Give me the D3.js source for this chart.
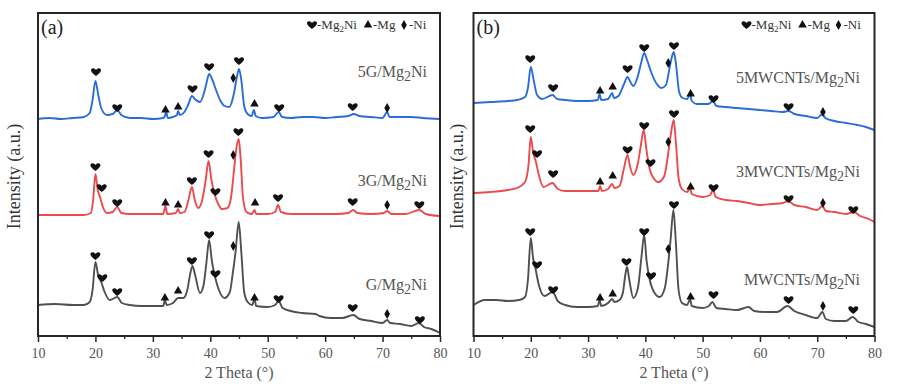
<!DOCTYPE html>
<html><head><meta charset="utf-8">
<script src="https://cdn.jsdelivr.net/npm/d3@7/dist/d3.min.js"></script>
<style>
html,body{margin:0;padding:0;background:#fff;}
svg{display:block;}
text{font-family:"Liberation Serif","Times New Roman",serif;}
</style></head>
<body>
<svg id="chart" width="902" height="391"></svg>
<script>
// ---------- DATA (2θ in degrees, intensity in arbitrary units, curves already offset) ----------
const xTicks = [10, 20, 30, 40, 50, 60, 70, 80];
const xMinorTicks = [15, 25, 35, 45, 55, 65, 75];
const panelLetters = ["(a)", "(b)"];
const seriesNamesA = ["5G/Mg", "3G/Mg", "G/Mg"];
const seriesNamesB = ["5MWCNTs/Mg", "3MWCNTs/Mg", "MWCNTs/Mg"];
const seriesColors = ["#2a6dd8", "#ec4a4c", "#505050"];
const legendItems = [["h", "-Mg", "2", "Ni"], ["t", "-Mg", "", ""], ["d", "-Ni", "", ""]];

const blueA = [[10,217],[12,218],[14,217],[16,218],[18,219],[19,223],[19.5,236],[20,255],[20.5,241],[21,228],[22,221],[23,222],[23.8,226],[24.5,221],[26,218],[28,218],[30,217],[31.8,218],[32.1,220],[32.3,225],[32.6,218],[33.5,219],[34.2,221],[34.4,225],[34.7,221],[35.5,224],[36.2,232],[36.8,240],[37.3,237],[38.2,234],[38.8,241],[39.3,252],[39.8,262],[40.3,257],[41,246],[41.7,236],[42.5,230],[43.3,229],[43.8,235],[44.2,245],[44.6,258],[45.0,267],[45.4,256],[45.9,230],[46.5,222],[47.2,220],[47.6,226],[47.9,220],[49,218],[51,219],[51.9,224],[52.5,219],[54,218],[56,219],[58,219],[60,218],[62,219],[64,220],[65,222],[66,220],[68,219],[70,218],[70.8,224],[71.2,219],[73,219],[75,219],[77,218],[80,217]];
const redA = [[10,121],[14,121],[18,121],[19.2,123],[19.6,136],[20,162],[20.4,146],[20.8,139],[21.3,129],[22,123],[23,124],[23.8,129],[24.5,123],[26,122],[28,122],[30,122],[31.8,122],[32.2,130],[32.5,122],[34,123],[34.4,127],[34.7,123],[35.5,124],[36.2,136],[36.8,149],[37.3,136],[37.9,128],[38.6,136],[39.2,156],[39.7,175],[40.2,156],[40.8,141],[41.3,133],[42,127],[43,128],[43.6,138],[44.1,164],[44.5,186],[44.95,197],[45.3,176],[45.7,138],[46.3,124],[47.2,122],[47.7,126],[48,122],[50,122],[51.3,124],[51.8,131],[52.3,124],[54,122],[58,122],[62,122],[64,123],[64.9,126],[65.6,123],[68,122],[70.2,123],[70.8,125],[71.5,122],[74,122],[76.4,126],[77.5,122],[80,120]];
const grayA = [[10,31],[13,32],[16,31],[18,31],[19,34],[19.5,46],[20,74],[20.5,60],[21,54],[21.6,44],[22.5,36],[23.8,39],[24.6,33],[26,31],[28,30],[30,30],[31.8,30],[32.1,36],[32.4,31],[33.5,33],[34.4,38],[35.3,38],[36.0,46],[36.5,62],[36.9,70],[37.4,60],[38.2,43],[38.8,50],[39.3,72],[39.8,96],[40.3,74],[40.8,60],[41.5,46],[42.5,38],[43.4,44],[43.9,62],[44.4,84],[44.95,114],[45.4,84],[45.9,44],[46.5,34],[47.3,31],[47.7,37],[48,30],[50,29],[51.3,31],[51.9,35],[52.6,28],[54,25],[56,23],[58.3,22],[59,20],[61,18],[63,18],[64.9,21],[66,17],[68,15],[70,13],[70.8,16],[71.3,13],[73,12],[75,10],[76.3,13],[77.2,9],[78.5,7],[80,3]];

const blueB = [[10,233],[13,234],[16,235],[17.6,236],[19,239],[19.5,248],[20,269],[20.5,256],[21.1,241],[22,237],[23.8,241],[24.6,237],[26,236],[28,235],[30,235],[31.7,236],[32,242],[32.3,236],[33.5,237],[34.2,243],[34.5,238],[35.3,240],[36.2,251],[36.9,259],[37.3,255],[37.9,250],[38.7,260],[39.3,274],[39.8,283],[40.3,276],[41,264],[42,252],[42.8,248],[43.6,251],[44.1,264],[44.5,276],[44.95,284],[45.3,274],[45.9,244],[46.5,238],[47.3,237],[47.8,242],[48.1,235],[49,232],[51,232],[51.8,235],[52.4,230],[54,229],[56,228],[58,227],[60,226],[62,225],[64,224],[65,225],[66,222],[68,220],[70,218],[70.9,222],[71.4,218],[73,215],[75,213],[77,211],[78.5,209],[80,206]];
const redB = [[10,143],[13,144],[16,146],[17.6,148],[19,154],[19.6,171],[20,199],[20.4,184],[20.9,174],[21.4,161],[22.2,149],[23.8,153],[24.7,147],[26,145],[28,145],[30,145],[31.8,145],[32.1,150],[32.4,145],[33.5,147],[34.2,152],[34.6,148],[35.5,150],[36.2,166],[36.9,181],[37.3,170],[37.9,161],[38.7,173],[39.2,190],[39.7,206],[40.2,186],[40.7,168],[41.3,159],[42.3,154],[43.3,160],[43.9,179],[44.4,200],[44.95,216],[45.3,196],[45.8,158],[46.4,147],[47.3,144],[47.8,148],[48.1,142],[50,139],[51.3,141],[51.8,146],[52.3,139],[54,136],[56,135],[58,133],[60,131],[62,132],[64,133],[64.9,135],[66,131],[68,129],[70,126],[70.9,130],[71.5,125],[73,124],[75,122],[76.4,124],[77.5,120],[79,117],[80,114]];
const grayB = [[10,31],[12,36],[14,36],[16,35],[18,36],[19,39],[19.5,56],[20,98],[20.4,78],[20.8,68],[21.4,51],[22.4,40],[23.8,44],[24.7,35],[26,31],[28,29],[30,29],[31.7,30],[32,36],[32.3,30],[33.5,33],[34.2,37],[34.6,34],[35.5,36],[36.1,44],[36.5,61],[36.8,69],[37.2,56],[37.9,38],[38.7,48],[39.3,78],[39.8,101],[40.2,76],[40.7,58],[41.5,44],[42.5,39],[43.4,48],[43.9,68],[44.4,96],[44.9,126],[45.3,96],[45.8,46],[46.4,33],[47.3,31],[47.8,37],[48.1,30],[50,28],[51.1,30],[51.7,34],[52.4,28],[54,27],[56,26],[58,29],[59,25],[61,24],[63,24],[64.8,30],[66,25],[68,21],[70,18],[70.9,24],[71.5,17],[73,15],[75,15],[76.2,19],[77.2,14],[78.5,12],[80,9]];

// phase markers: [2θ, intensity, type] (h = Mg2Ni, t = Mg, d = Ni)
const markBlueA = [[20.1,264,"h"],[23.8,228,"h"],[32.2,226,"t"],[34.4,229,"t"],[36.9,247,"h"],[39.8,269,"h"],[44.0,258,"d"],[45.0,275,"h"],[47.7,232,"t"],[52,228,"h"],[64.8,229,"h"],[70.8,228,"d"]];
const markRedA = [[20,169,"h"],[21.1,148,"h"],[23.8,133,"h"],[32.2,133,"t"],[34.4,131,"t"],[36.8,155,"h"],[39.7,182,"h"],[40.9,144,"h"],[44.0,181,"d"],[44.9,204,"h"],[47.8,133,"t"],[51.8,138,"h"],[64.8,134,"h"],[70.8,131,"d"],[76.4,131,"h"]];
const markGrayA = [[20,80,"h"],[21.2,58,"h"],[23.8,44,"h"],[32.1,38,"t"],[34.4,45,"t"],[36.8,75,"h"],[39.8,101,"h"],[40.9,62,"h"],[44.0,90,"d"],[47.7,38,"t"],[51.9,37,"h"],[64.8,28,"h"],[70.8,22,"d"],[76.5,16,"h"]];
const markBlueB = [[19.9,277,"h"],[23.9,248,"h"],[32.1,245,"t"],[34.3,249,"t"],[36.9,267,"h"],[39.8,288,"h"],[44.0,273,"d"],[45.0,290,"h"],[47.9,242,"t"],[51.9,237,"h"],[65,229,"h"],[71,224,"d"]];
const markRedB = [[19.9,207,"h"],[21.1,182,"h"],[23.9,162,"h"],[32.1,154,"t"],[34.3,160,"t"],[36.9,186,"h"],[39.8,210,"h"],[40.9,173,"h"],[44.0,194,"d"],[45.0,222,"h"],[47.9,149,"t"],[51.9,148,"h"],[65,137,"h"],[71,133,"d"],[76.3,126,"h"]];
const markGrayB = [[19.9,104,"h"],[21.1,71,"h"],[23.9,46,"h"],[32.1,38,"t"],[34.3,42,"t"],[36.7,74,"h"],[39.8,104,"h"],[41,60,"h"],[44.0,87,"d"],[45.0,131,"h"],[47.9,39,"t"],[51.9,41,"h"],[65,36,"h"],[71,30,"d"],[76.3,26,"h"]];

// label anchor intensities for series names
const labelLevelsA = [259, 150, 46];
const labelLevelsB = [253, 159, 51];

// ---------- DRAWING ----------
const svg = d3.select("#chart");
const frameTop = 13, frameBottom = 336;
const panels = [
  {left: 38, right: 440, letter: panelLetters[0], series: [blueA, redA, grayA], marks: [markBlueA, markRedA, markGrayA], names: seriesNamesA, levels: labelLevelsA, labelRight: 427, yLabelX: 20},
  {left: 473.5, right: 874.5, letter: panelLetters[1], series: [blueB, redB, grayB], marks: [markBlueB, markRedB, markGrayB], names: seriesNamesB, levels: labelLevelsB, labelRight: 860, yLabelX: 463}
];

const heartPath = "M0,3.9 C-1.3,2.8 -5,0.3 -5,-1.8 C-5,-4.2 -2,-4.6 0,-2.2 C2,-4.6 5,-4.2 5,-1.8 C5,0.3 1.3,2.8 0,3.9Z";
const triPath = d3.symbol(d3.symbolTriangle, 32)();
const diaPath = d3.symbol(d3.symbolDiamond, 28)();
function markerPath(t){ return t === "h" ? heartPath : (t === "t" ? triPath : diaPath); }

panels.forEach(p => {
  const x = d3.scaleLinear().domain([10, 80]).range([p.left, p.right]);
  const y = d3.scaleLinear().domain([0, frameBottom - frameTop]).range([frameBottom, frameTop]);
  const g = svg.append("g");

  const line = d3.line().x(d => x(d[0])).y(d => y(d[1])).curve(d3.curveMonotoneX);
  p.series.forEach((s, i) => {
    g.append("path").attr("d", line(s)).attr("fill", "none")
      .attr("stroke", seriesColors[i]).attr("stroke-width", 1.9).attr("stroke-linejoin", "round");
  });

  p.marks.forEach(ms => {
    g.selectAll(null).data(ms).enter().append("path")
      .attr("d", d => markerPath(d[2]))
      .attr("transform", d => `translate(${x(d[0])},${y(d[1])})`)
      .attr("fill", "#111");
  });

  p.names.forEach((n, i) => {
    const t = g.append("text").attr("x", p.labelRight).attr("y", y(p.levels[i]))
      .attr("text-anchor", "end").attr("font-size", 16).attr("fill", "#555");
    t.append("tspan").text(n);
    t.append("tspan").text("2").attr("dy", 4).attr("font-size", 14);
    t.append("tspan").text("Ni").attr("dy", -4);
  });

  g.append("rect").attr("x", p.left).attr("y", frameTop).attr("width", p.right - p.left).attr("height", frameBottom - frameTop)
    .attr("fill", "none").attr("stroke", "#262626").attr("stroke-width", 2);

  const ax = g.append("g").attr("transform", `translate(0,${frameBottom})`)
    .call(d3.axisBottom(x).tickValues(xTicks).tickSize(6).tickSizeOuter(0).tickPadding(6).tickFormat(d3.format("d")));
  ax.select(".domain").remove();
  ax.selectAll("line").attr("stroke", "#262626").attr("stroke-width", 1.5);
  ax.selectAll("text").attr("font-size", 14).attr("fill", "#555").attr("font-family", "Liberation Serif, serif");
  const axm = g.append("g").attr("transform", `translate(0,${frameBottom})`)
    .call(d3.axisBottom(x).tickValues(xMinorTicks).tickSize(3).tickSizeOuter(0).tickFormat(""));
  axm.select(".domain").remove();
  axm.selectAll("line").attr("stroke", "#262626").attr("stroke-width", 1.3);

  g.append("text").attr("x", (p.left + p.right) / 2).attr("y", 378).attr("text-anchor", "middle")
    .attr("font-size", 16).attr("fill", "#555").text("2 Theta (°)");
  g.append("text").attr("transform", `translate(${p.yLabelX},${(frameTop + frameBottom) / 2 + 2}) rotate(-90)`)
    .attr("text-anchor", "middle").attr("font-size", 18).attr("fill", "#333").text("Intensity (a.u.)");

  g.append("text").attr("x", p.left + 3).attr("y", 34).attr("font-size", 20).attr("fill", "#222").text(p.letter);

  const lg = g.append("g").attr("transform", `translate(${p.right - 132},29)`);
  let cx = 0;
  legendItems.forEach(it => {
    lg.append("path").attr("d", markerPath(it[0])).attr("transform", `translate(${cx + 4},-4)`).attr("fill", "#111");
    const t = lg.append("text").attr("x", cx + 9).attr("y", 0).attr("font-size", 13).attr("fill", "#333");
    t.append("tspan").text(it[1]);
    if (it[2]) { t.append("tspan").text(it[2]).attr("dy", 3).attr("font-size", 9); t.append("tspan").text(it[3]).attr("dy", -3); }
    cx += (it[2] ? 56 : 36);
  });
});
</script>
</body></html>
